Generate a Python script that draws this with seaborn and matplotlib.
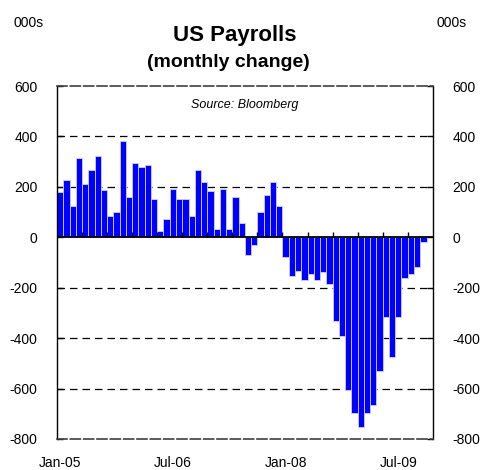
import pandas as pd
import seaborn as sns
import matplotlib.pyplot as plt

# monthly change in US nonfarm payrolls, 000s (Jan-05 .. Nov-09)
months = pd.date_range('2005-01-01', periods=59, freq='MS').strftime('%b-%y').tolist()
payrolls = [180, 227, 123, 316, 212, 265, 323, 189, 85, 100, 383, 160,
            295, 279, 287, 153, 25, 71, 191, 153, 153, 85, 265, 219,
            183, 33, 191, 33, 160, 55, -69, -31, 100, 167, 220, 123,
            -79, -155, -132, -170, -146, -170, -139, -184, -331, -391, -607, -695,
            -754, -695, -664, -532, -318, -473, -318, -162, -146, -117, -20]
label_months = ['Jan-05', 'Jul-06', 'Jan-08', 'Jul-09']
y_ticks = [600, 400, 200, 0, -200, -400, -600, -800]

sns.set_style('white')
plt.rcParams['font.family'] = ['Liberation Sans', 'DejaVu Sans']
plt.rcParams['text.color'] = 'black'
plt.rcParams['xtick.color'] = 'black'
plt.rcParams['ytick.color'] = 'black'

df = pd.DataFrame({'month': months, 'change': payrolls})

fig = plt.figure(figsize=(4.83, 4.70), dpi=100)
ax = fig.add_axes([0.118, 0.066, 0.778, 0.751])

sns.barplot(data=df, x='month', y='change', color='#0000FF', saturation=1,
            width=1, edgecolor='#D0D0FF', linewidth=0.6, ax=ax)

ax.set_xlim(-0.5, 59.5)
ax.set_ylim(-800, 600)
ax.set_yticks(y_ticks)
ax.set_yticklabels([str(v) for v in y_ticks])

for v in y_ticks[1:-1]:
    if v != 0:
        ax.axhline(v, color='black', lw=0.9, ls=(0, (6, 4)), zorder=0)
ax.axhline(0, color='black', lw=1.3, zorder=3)
# category axis tick marks every 4 months on the zero line
for k in range(4, 60, 4):
    ax.vlines(k - 0.5, 0, 20, color='black', lw=1, zorder=3)

ax.set_xticks([months.index(m) for m in label_months])
ax.set_xticklabels(label_months)
ax.tick_params(axis='x', length=0, pad=12, labelsize=10)
ax.tick_params(axis='y', direction='in', length=4, width=1, pad=14,
               labelsize=10, left=True, right=True, labelright=True)
ax.set_xlabel('')
ax.set_ylabel('')

for s in ['left', 'right']:
    ax.spines[s].set_color('black')
    ax.spines[s].set_linewidth(1)
for s in ['top', 'bottom']:
    ax.spines[s].set_color('#404040')
    ax.spines[s].set_linewidth(1.2)
    ax.spines[s].set_linestyle((0, (6, 2)))

ax.text(0.5, 0.946, 'Source: Bloomberg', transform=ax.transAxes,
        ha='center', va='center', fontsize=9, style='italic')

fig.text(0.487, 0.925, 'US Payrolls', ha='center', va='center',
         fontsize=16, fontweight='bold')
fig.text(0.473, 0.866, '(monthly change)', ha='center', va='center',
         fontsize=14, fontweight='bold')
fig.text(0.027, 0.951, '000s', ha='left', va='center', fontsize=10)
fig.text(0.967, 0.951, '000s', ha='right', va='center', fontsize=10)

fig.savefig('out.png', dpi=100)
